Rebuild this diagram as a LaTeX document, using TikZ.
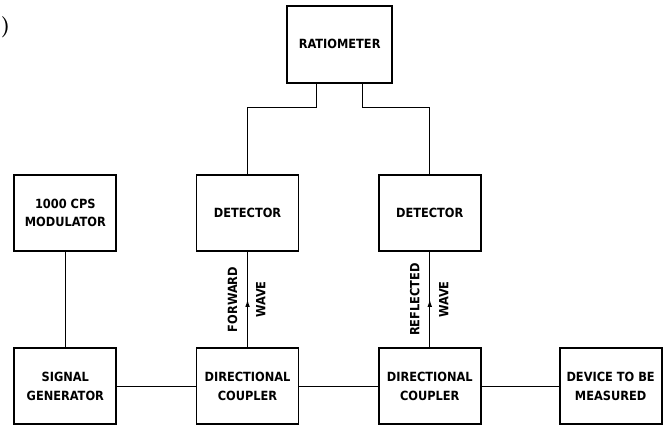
\documentclass[tikz,border=0pt]{standalone}
\usepackage{fontspec}
\newfontfamily\condfont{DejaVu Sans Condensed}
\usepackage{tikz}
\usetikzlibrary{arrows.meta, calc, positioning, decorations.markings}

\begin{document}
\begin{tikzpicture}[
    node distance=2.35cm,
    lbl/.style={font={\condfont\bfseries\fontsize{10.8}{16}\selectfont}},
    box/.style={rectangle, draw, line width=1.6pt, minimum width=3.06cm, minimum height=2.28cm, align=center, lbl},
    wire/.style={line width=0.9pt},
    flow/.style={wire, decoration={markings, mark=at position 0.5 with {\arrow{Latex[length=2.2mm,width=1.4mm]}}}, postaction={decorate}},
    tag/.style={lbl, inner sep=0pt}]
    \useasboundingbox (0,0) rectangle (19.89,12.87);

    % bottom row (signal path)
    \node[box] (siggen) at (1.96,1.28) {SIGNAL\\GENERATOR};
    \node[box, right=of siggen] (cplf) {DIRECTIONAL\\COUPLER};
    \node[box, right=of cplf] (cplr) {DIRECTIONAL\\COUPLER};
    \node[box, right=2.31cm of cplr] (device) {DEVICE TO BE\\MEASURED};
    \draw[wire] (siggen) -- (cplf);
    \draw[wire] (cplf) -- (cplr);
    \draw[wire] (cplr) -- (device);

    % middle row
    \node[box, above=2.87cm of siggen] (modul) {1000 CPS\\MODULATOR};
    \node[box, above=2.87cm of cplf] (detf) {DETECTOR};
    \node[box, above=2.87cm of cplr] (detr) {DETECTOR};
    \draw[wire] (modul) -- (siggen);
    \draw[flow] (cplf.north) -- (detf.south)
        node[midway, xshift=-0.45cm, rotate=90, tag] {FORWARD}
        node[midway, xshift=0.40cm, rotate=90, tag] {WAVE};
    \draw[flow] (cplr.north) -- (detr.south)
        node[midway, xshift=-0.45cm, rotate=90, tag] {REFLECTED}
        node[midway, xshift=0.42cm, rotate=90, tag] {WAVE};

    % top (ratiometer)
    \node[box, minimum width=3.15cm, minimum height=2.31cm] (ratio) at (10.19,11.54) {RATIOMETER};
    \draw[wire] ([xshift=-0.69cm]ratio.south) -- ++(0,-0.72) -| (detf.north);
    \draw[wire] ([xshift=0.69cm]ratio.south) -- ++(0,-0.72) -| (detr.north);

    \node[font={\bfseries\fontsize{18}{18}\selectfont}, anchor=west, inner sep=0pt] (paren) at (0.02,12.05) {)};
\end{tikzpicture}
\end{document}
